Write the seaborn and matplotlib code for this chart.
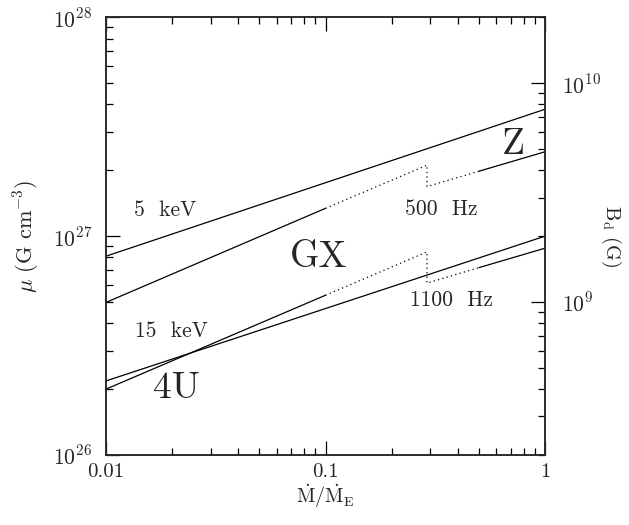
import matplotlib
matplotlib.use("Agg")
import numpy as np
import pandas as pd
import matplotlib.pyplot as plt
from matplotlib.ticker import LogLocator, NullFormatter, FuncFormatter
import seaborn as sns

# Magnetic moment vs accretion rate (Mdot in Eddington units)
mdot_5kev = [0.01, 1.0]
mu_5kev = [8.1e26, 3.8e27]
mdot_15kev = [0.01, 1.0]
mu_15kev = [2.18e26, 1.0e27]

# Spin-frequency tracks; the kink near Mdot ~ 0.3 marks the change of regime
mdot_500 = [0.01, 0.1, 0.29, 0.29, 0.5, 1.0]
mu_500 = [4.98e26, 1.34e27, 2.11e27, 1.685e27, 1.98e27, 2.43e27]
mdot_1100 = [0.01, 0.1, 0.29, 0.29, 0.5, 1.0]
mu_1100 = [2.0e26, 5.37e26, 8.47e26, 6.1e26, 7.18e26, 8.81e26]
# line kind of each segment between consecutive vertices
track_kind = ["solid", "dotted", "dotted", "dotted", "solid"]

curve_text = ["5  keV", "15  keV", "500  Hz", "1100  Hz"]
source_text = ["4U", "GX", "Z"]

x_ticks = [0.01, 0.1, 1]
x_ticklabels = ["0.01", "0.1", "1"]
mu_lim = (1e26, 1e28)
radius_cm = 1e6  # dipole field at the stellar surface: B = 2 mu / R^3


def runs(mdot, mu, kinds, name):
    """Split a track into runs of equal line kind."""
    rows = []
    unit = 0
    for i, k in enumerate(kinds):
        if i > 0 and k != kinds[i - 1]:
            unit += 1
        for j in (i, i + 1):
            rows.append(dict(mdot=mdot[j], mu=mu[j], kind=k, unit=f"{name}{unit}"))
    df = pd.DataFrame(rows)
    return df.drop_duplicates(keep="first")


lines = pd.concat([
    runs(mdot_5kev, mu_5kev, ["solid"], "a"),
    runs(mdot_15kev, mu_15kev, ["solid"], "b"),
    runs(mdot_500, mu_500, track_kind, "c"),
    runs(mdot_1100, mu_1100, track_kind, "d"),
], ignore_index=True)

sns.set_style("ticks")
plt.rcParams["font.family"] = ["cmr10", "DejaVu Serif"]
plt.rcParams["mathtext.fontset"] = "cm"
plt.rcParams["axes.formatter.use_mathtext"] = True

fig = plt.figure(figsize=(6.29, 5.25), dpi=100)
ax = fig.add_axes([106 / 629, 1 - 455 / 525, (545 - 106) / 629, (455 - 17.3) / 525])
ax.set_xscale("log")
ax.set_yscale("log")

sns.lineplot(
    data=lines, x="mdot", y="mu", units="unit", style="kind",
    dashes={"solid": "", "dotted": (1, 2.6)}, estimator=None, sort=False,
    color="black", linewidth=0.9, legend=False, ax=ax,
)

ax.set_xlim(0.01, 1)
ax.set_ylim(*mu_lim)

# curve labels
curve_x = [0.0185, 0.0199, 0.338, 0.373]
curve_y = [1.32e27, 3.67e26, 1.33e27, 5.1e26]
for t, x, y in zip(curve_text, curve_x, curve_y):
    ax.text(x, y, t, fontsize=15.5, ha="center", va="center")

source_x = [0.0209, 0.0933, 0.714]
source_y = [2.01e26, 7.96e26, 2.62e27]
for t, x, y in zip(source_text, source_x, source_y):
    ax.text(x, y, t, fontsize=27, ha="center", va="center")

# axis styling
for s in ax.spines.values():
    s.set_linewidth(1.1)
ax.set_xticks(x_ticks)
ax.set_xticklabels(x_ticklabels)
ax.xaxis.set_minor_locator(LogLocator(base=10, subs=np.arange(2, 10), numticks=20))
ax.xaxis.set_minor_formatter(NullFormatter())
ax.yaxis.set_major_locator(LogLocator(base=10, numticks=10))
ax.yaxis.set_minor_locator(LogLocator(base=10, subs=np.arange(2, 10), numticks=20))
ax.yaxis.set_major_formatter(FuncFormatter(lambda v, p: r"$10^{%d}$" % round(np.log10(v))))
ax.yaxis.set_minor_formatter(NullFormatter())

ax.tick_params(which="both", direction="in", top=True, right=False, color="black", width=0.9)
ax.tick_params(which="major", length=10)
ax.tick_params(which="minor", length=5)
ax.tick_params(axis="y", which="major", labelsize=15.5, pad=10)
ax.tick_params(axis="x", which="major", labelsize=15, pad=6)

ax.set_xlabel(r"$\dot{\rm M}/\dot{\rm M}_{\rm E}$", fontsize=14.5, labelpad=1)
ax.set_ylabel(r"$\mu$ (G cm$^{-3}$)", fontsize=16, labelpad=8)

# right axis: surface dipole field
ax2 = ax.twinx()
ax2.set_yscale("log")
ax2.set_ylim(2 * mu_lim[0] / radius_cm**3, 2 * mu_lim[1] / radius_cm**3)
ax2.yaxis.set_major_locator(LogLocator(base=10, numticks=10))
ax2.yaxis.set_minor_locator(LogLocator(base=10, subs=np.arange(2, 10), numticks=20))
ax2.yaxis.set_major_formatter(FuncFormatter(lambda v, p: r"$10^{%d}$" % round(np.log10(v))))
ax2.yaxis.set_minor_formatter(NullFormatter())
ax2.tick_params(which="both", direction="in", color="black", width=0.9)
ax2.tick_params(which="major", length=10, labelsize=15.5, pad=12)
ax2.tick_params(which="minor", length=5)
ax2.set_ylabel(r"B$_{\rm d}$ (G)", fontsize=14.5, rotation=270, labelpad=16)
for s in ax2.spines.values():
    s.set_linewidth(1.1)

fig.savefig("out.png", dpi=100)
